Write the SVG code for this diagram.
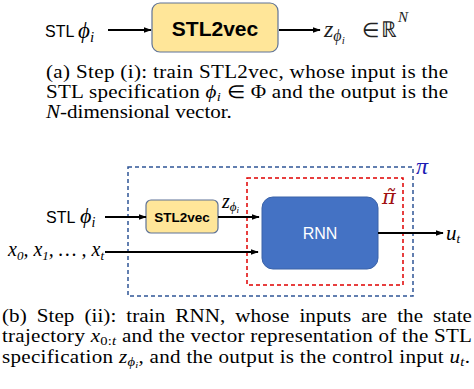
<svg xmlns="http://www.w3.org/2000/svg" width="474" height="389" viewBox="0 0 474 389">
<style>
.sans{font-family:"Liberation Sans","Open Sans",sans-serif;}
.serif{font-family:"Liberation Serif","Times New Roman",serif;}
.math{font-family:"Liberation Serif","DejaVu Serif",serif;font-style:italic;}
.cap{font-family:"Liberation Serif","Times New Roman",serif;font-size:18px;fill:#000;}
.it{font-style:italic;}
.line{stroke:#000;stroke-width:2;fill:none;}
</style>
<defs>
<marker id="arr" viewBox="0 0 10 10" refX="9" refY="5" markerWidth="8" markerHeight="8" orient="auto" markerUnits="userSpaceOnUse">
<path d="M0,1.5 L10,5 L0,8.5 z" fill="#000"/>
</marker>
</defs>
<rect width="474" height="389" fill="#fff"/>

<!-- Part (a) -->
<g id="a-input">
<text class="sans" x="45" y="37" font-size="16">STL</text>
<text class="math" x="78" y="38" font-size="23">ϕ<tspan font-size="15" dy="4">i</tspan></text>
</g>
<g id="a-stl2vec">
<rect x="152" y="3" width="126" height="49" rx="8" fill="#FFE699" stroke="#5F7397" stroke-width="1.2"/>
<text class="sans" x="215" y="36" font-size="21" font-weight="bold" text-anchor="middle">STL2vec</text>
</g>
<g id="a-output">
<text class="math" x="324" y="37" font-size="24" fill="#222">z<tspan font-size="16" dy="4">ϕ</tspan><tspan font-size="11" dy="3">i</tspan></text>
<text class="serif" x="362" y="37" font-size="20" fill="#222">∈</text>
<text class="serif" x="381" y="37" font-size="22" fill="#222">ℝ</text>
<text class="math" x="398" y="22" font-size="15" fill="#222">N</text>
</g>
<g id="a-connectors">
<line class="line" x1="108" y1="30" x2="151" y2="30" marker-end="url(#arr)"/>
<line class="line" x1="279" y1="30" x2="320" y2="30" marker-end="url(#arr)"/>
</g>

<g id="caption-a" class="cap" transform="scale(1.17,1)">
<text x="39.3" y="78" textLength="343.6" lengthAdjust="spacing">(a) Step (i): train STL2vec, whose input is the</text>
<text x="39.3" y="98" textLength="343.6" lengthAdjust="spacing">STL specification <tspan class="it">ϕ</tspan><tspan class="it" font-size="12.5" dy="3">i</tspan><tspan dy="-3"> ∈ Φ and the output is the</tspan></text>
<text x="39.3" y="118"><tspan class="it">N</tspan>-dimensional vector.</text>
</g>

<!-- Part (b) -->
<g id="pi-box">
<rect x="128" y="167" width="285" height="129" fill="none" stroke="#2F5597" stroke-width="1.5" stroke-dasharray="4,3"/>
<text class="math" x="416" y="174" font-size="24" fill="#1C1CB4">π</text>
</g>
<g id="pitilde-box">
<rect x="247" y="178" width="156" height="107" fill="none" stroke="#E00000" stroke-width="1.5" stroke-dasharray="4,3"/>
<text x="382" y="204" font-size="21" font-style="italic" fill="#A01010" style="font-family:'DejaVu Serif',serif">π̃</text>
</g>
<g id="b-stl2vec">
<rect x="146" y="200" width="72" height="33" rx="5" fill="#FFE699" stroke="#5F7397" stroke-width="1.2"/>
<text class="sans" x="182" y="222" font-size="13.5" font-weight="bold" text-anchor="middle">STL2vec</text>
</g>
<g id="rnn">
<rect x="262" y="197" width="116" height="72" rx="11" fill="#4472C4" stroke="#3A62A8" stroke-width="1"/>
<text class="sans" x="320" y="239" font-size="16" fill="#fff" text-anchor="middle">RNN</text>
</g>
<g id="b-input-stl">
<text class="sans" x="46" y="223" font-size="16">STL</text>
<text class="math" x="80" y="223" font-size="22">ϕ<tspan font-size="14" dy="4">i</tspan></text>
</g>
<g id="b-input-x">
<text class="math" x="8" y="256" font-size="20">x<tspan font-size="13" dy="4">0</tspan><tspan dy="-4">, x</tspan><tspan font-size="13" dy="4">1</tspan><tspan dy="-4">, … , x</tspan><tspan font-size="13" dy="4">t</tspan></text>
</g>
<g id="z-label">
<text class="math" x="222" y="208" font-size="20">z<tspan font-size="13" dy="3">ϕ</tspan><tspan font-size="9" dy="2">i</tspan></text>
</g>
<g id="ut">
<text class="math" x="446" y="240" font-size="21">u<tspan font-size="13" dy="3">t</tspan></text>
</g>
<g id="b-connectors">
<line class="line" x1="105" y1="217" x2="146" y2="217" marker-end="url(#arr)"/>
<line class="line" x1="218" y1="217" x2="259" y2="217" marker-end="url(#arr)"/>
<line class="line" x1="105" y1="252" x2="258" y2="252" marker-end="url(#arr)"/>
<line class="line" x1="378" y1="233" x2="443" y2="233" marker-end="url(#arr)"/>
</g>

<g id="caption-b" class="cap" transform="scale(1.17,1)">
<text x="1.7" y="322" word-spacing="4" textLength="401.7" lengthAdjust="spacing">(b) Step (ii): train RNN, whose inputs are the state</text>
<text x="1.7" y="342" textLength="401.7" lengthAdjust="spacing">trajectory <tspan class="it">x</tspan><tspan font-size="12.5" dy="3">0:<tspan class="it">t</tspan></tspan><tspan dy="-3"> and the vector representation of the STL</tspan></text>
<text x="1.7" y="363" textLength="400" lengthAdjust="spacing">specification <tspan class="it">z</tspan><tspan class="it" font-size="12.5" dy="3">ϕ</tspan><tspan class="it" font-size="9" dy="2">i</tspan><tspan dy="-5">, and the output is the control input </tspan><tspan class="it">u</tspan><tspan class="it" font-size="12.5" dy="3">t</tspan><tspan dy="-3">.</tspan></text>
</g>
</svg>
